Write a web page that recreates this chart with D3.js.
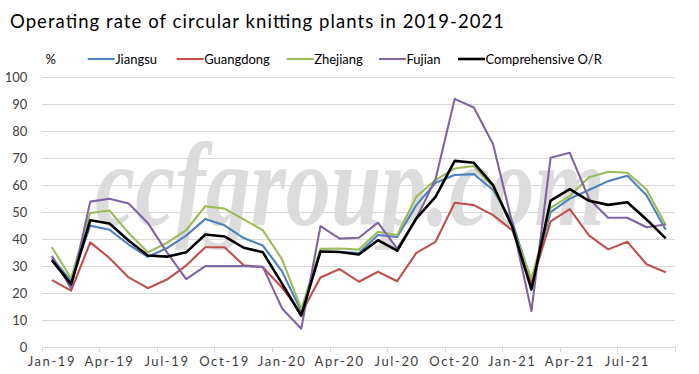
<!DOCTYPE html>
<html>
<head>
<meta charset="utf-8">
<script src="https://cdn.jsdelivr.net/npm/d3@7"></script>
<style>
  html, body { margin: 0; padding: 0; background: #fff; }
  svg { display: block; }
  text { font-family: Lato, "Open Sans", sans-serif; }
</style>
</head>
<body>
<svg id="chart" width="699" height="374"></svg>
<script>
const categories = ["Jan-19","Feb-19","Mar-19","Apr-19","May-19","Jun-19","Jul-19","Aug-19","Sep-19","Oct-19","Nov-19","Dec-19",
  "Jan-20","Feb-20","Mar-20","Apr-20","May-20","Jun-20","Jul-20","Aug-20","Sep-20","Oct-20","Nov-20","Dec-20",
  "Jan-21","Feb-21","Mar-21","Apr-21","May-21","Jun-21","Jul-21","Aug-21","Sep-21"];
const jiangsu   = [33.0,24.5,45.0,43.5,38.0,33.4,36.7,41.3,47.5,45.1,40.4,37.6,28.0,13.3,35.4,35.2,34.8,41.5,40.8,52.6,60.9,63.8,64.1,58.2,46.4,24.2,50.0,55.0,58.2,61.5,63.5,56.3,43.5];
const guangdong = [24.8,20.9,38.8,33.0,25.8,21.8,25.0,30.2,37.0,37.0,30.3,29.6,22.0,12.5,25.8,28.9,24.2,27.9,24.4,34.9,39.0,53.5,52.6,48.9,43.3,23.5,46.6,51.1,41.4,36.2,39.0,30.7,27.7];
const zhejiang  = [37.0,25.5,49.7,50.6,42.3,35.1,38.6,43.3,52.2,51.3,47.3,43.3,32.5,14.1,36.4,36.5,36.1,42.7,41.5,55.7,61.9,66.2,67.1,59.4,44.6,25.2,51.6,56.0,62.9,65.0,64.6,58.4,45.2];
const fujian    = [33.8,21.7,53.9,55.0,53.2,46.0,35.1,25.2,30.0,30.0,30.0,29.7,14.3,6.8,44.8,40.2,40.5,46.1,36.5,47.7,62.2,92.0,88.8,75.2,46.0,13.3,70.2,72.0,55.0,47.9,47.9,44.4,45.4];
const comprehensive = [32.2,23.3,47.0,45.8,39.5,33.9,33.5,35.1,41.7,41.0,36.8,35.1,23.5,11.6,35.4,35.2,34.3,39.6,35.7,47.7,55.7,69.0,68.3,60.0,44.6,21.3,54.3,58.5,54.2,52.7,53.7,47.3,40.3];
const seriesNames = ["Jiangsu","Guangdong","Zhejiang","Fujian","Comprehensive O/R"];
const seriesColors = ["#4F81BD","#C0504D","#9BBB59","#8064A2","#000000"];
const yTicks = [0,10,20,30,40,50,60,70,80,90,100];
const xTickLabels = ["Jan-19","Apr-19","Jul-19","Oct-19","Jan-20","Apr-20","Jul-20","Oct-20","Jan-21","Apr-21","Jul-21"];
const titleText = "Operating rate of circular knitting plants in 2019-2021";
const unitText = "%";
const watermarkText = "ccfgroup.com";

const seriesData = [jiangsu, guangdong, zhejiang, fujian, comprehensive];

const svg = d3.select("#chart");
const pLeft = 42.3, pRight = 675.3, pTop = 77.3, pBottom = 347;

const x = d3.scaleBand().domain(categories).range([pLeft, pRight]).padding(0);
const y = d3.scaleLinear().domain([0, 100]).range([pBottom, pTop]);
const cx = c => x(c) + x.bandwidth() / 2;

// watermark (scaled horizontally to the reference width)
const wmG = svg.append("g");
const wm = wmG.append("text")
  .attr("x", 0).attr("y", 0)
  .style("font-family", "'Liberation Serif', serif")
  .style("font-style", "italic").style("font-weight", "bold")
  .style("font-size", "118px")
  .attr("fill", "#dcdcdc")
  .text(watermarkText);
const wmW = wm.node().getComputedTextLength();
wmG.attr("transform", `translate(95,225) scale(${510 / wmW},1)`);

// y grid + labels
const yAxis = d3.axisLeft(y).tickValues(yTicks).tickSizeInner(-(pRight - pLeft)).tickSizeOuter(0).tickPadding(15);
const gy = svg.append("g").attr("transform", `translate(${pLeft},0)`).call(yAxis);
gy.select(".domain").remove();
gy.selectAll(".tick line").attr("stroke", "#d9d9d9").attr("stroke-width", 1)
  .attr("shape-rendering", "crispEdges");
gy.selectAll(".tick").filter(d => d === 0).select("line").remove();
gy.selectAll(".tick text").attr("fill", "#404040").style("font-size", "13px").style("font-family", "Lato, sans-serif");

// x axis
const xAxis = d3.axisBottom(x).tickValues(xTickLabels).tickSize(0).tickPadding(10);
const gx = svg.append("g").attr("transform", `translate(0,${pBottom})`).call(xAxis);
gx.select(".domain").attr("stroke", "#d9d9d9").attr("shape-rendering", "crispEdges");
gx.selectAll(".tick text").attr("fill", "#404040").style("font-size", "13px")
  .style("letter-spacing", "1.6px").style("font-family", "Lato, sans-serif").attr("dy", "0.71em");
const boundaries = categories.filter((c, i) => i % 3 === 0).map(c => x(c)).concat([pRight]);
gx.selectAll(".xtick").data(boundaries).enter().append("line")
  .attr("x1", d => d).attr("x2", d => d).attr("y1", 0).attr("y2", 5)
  .attr("stroke", "#d9d9d9").attr("shape-rendering", "crispEdges");

// lines
const line = d3.line().x((d, i) => cx(categories[i])).y(d => y(d));
seriesData.forEach((data, k) => {
  svg.append("path").datum(data)
    .attr("d", line)
    .attr("fill", "none")
    .attr("stroke", seriesColors[k])
    .attr("stroke-width", k === 4 ? 2.6 : 2.1)
    .attr("stroke-linejoin", "round");
});

// title
svg.append("text")
  .attr("x", 10).attr("y", 28)
  .attr("textLength", 494).attr("lengthAdjust", "spacing")
  .style("font-size", "18.5px").attr("fill", "#000")
  .text(titleText);

// legend
svg.append("text").attr("x", 45.5).attr("y", 64).style("font-size", "13px").attr("fill", "#000").text(unitText);
const legendX = [87.7, 176.7, 286.7, 379, 458];
seriesNames.forEach((n, k) => {
  const g = svg.append("g").attr("transform", `translate(${legendX[k]},59)`);
  g.append("line").attr("x1", 0).attr("x2", 27).attr("y1", 0).attr("y2", 0)
    .attr("stroke", seriesColors[k]).attr("stroke-width", k === 4 ? 2.6 : 2.1);
  g.append("text").attr("x", 27.5).attr("y", 5).style("font-size", "13px").attr("fill", "#000").text(n);
});
</script>
</body>
</html>
